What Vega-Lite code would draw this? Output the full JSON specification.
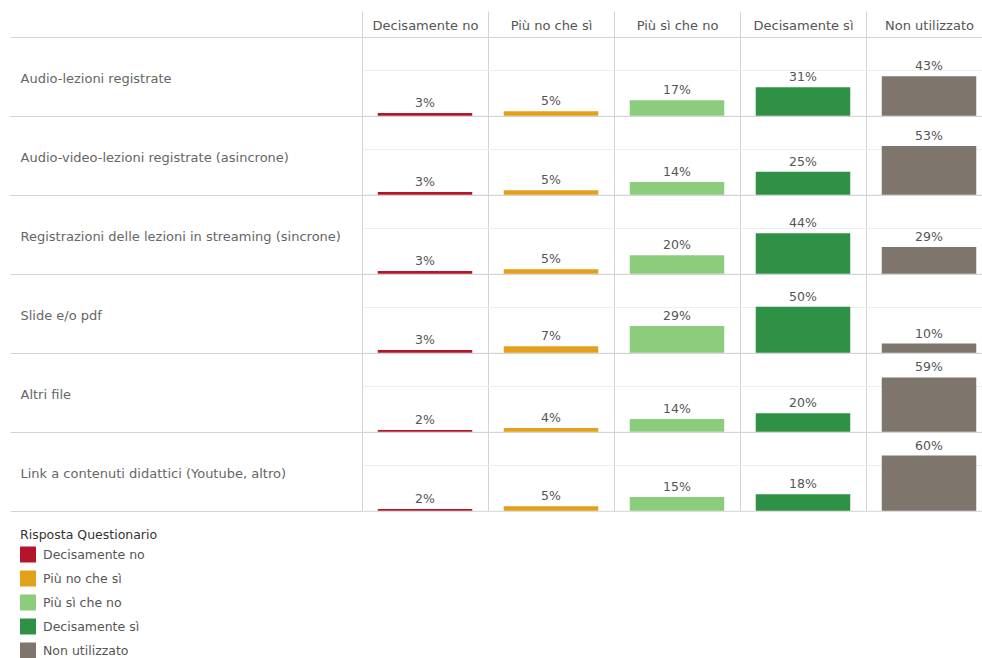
{
  "$schema": "https://vega.github.io/schema/vega-lite/v6.json",
  "padding": {"left": 9, "top": 10, "right": 0, "bottom": 0},
  "background": "white",
  "bounds": "flush",
  "config": {
    "font": "DejaVu Sans",
    "view": {"stroke": "#d4d4d4", "strokeWidth": 1},
    "facet": {"spacing": 0}
  },
  "data": {
    "values": [
      {"voce": "Audio-lezioni registrate", "risposta": "Decisamente no", "valore": 0.03},
      {"voce": "Audio-lezioni registrate", "risposta": "Più no che sì", "valore": 0.05},
      {"voce": "Audio-lezioni registrate", "risposta": "Più sì che no", "valore": 0.17},
      {"voce": "Audio-lezioni registrate", "risposta": "Decisamente sì", "valore": 0.31},
      {"voce": "Audio-lezioni registrate", "risposta": "Non utilizzato", "valore": 0.43},
      {"voce": "Audio-video-lezioni registrate (asincrone)", "risposta": "Decisamente no", "valore": 0.03},
      {"voce": "Audio-video-lezioni registrate (asincrone)", "risposta": "Più no che sì", "valore": 0.05},
      {"voce": "Audio-video-lezioni registrate (asincrone)", "risposta": "Più sì che no", "valore": 0.14},
      {"voce": "Audio-video-lezioni registrate (asincrone)", "risposta": "Decisamente sì", "valore": 0.25},
      {"voce": "Audio-video-lezioni registrate (asincrone)", "risposta": "Non utilizzato", "valore": 0.53},
      {"voce": "Registrazioni delle lezioni in streaming (sincrone)", "risposta": "Decisamente no", "valore": 0.03},
      {"voce": "Registrazioni delle lezioni in streaming (sincrone)", "risposta": "Più no che sì", "valore": 0.05},
      {"voce": "Registrazioni delle lezioni in streaming (sincrone)", "risposta": "Più sì che no", "valore": 0.20},
      {"voce": "Registrazioni delle lezioni in streaming (sincrone)", "risposta": "Decisamente sì", "valore": 0.44},
      {"voce": "Registrazioni delle lezioni in streaming (sincrone)", "risposta": "Non utilizzato", "valore": 0.29},
      {"voce": "Slide e/o pdf", "risposta": "Decisamente no", "valore": 0.03},
      {"voce": "Slide e/o pdf", "risposta": "Più no che sì", "valore": 0.07},
      {"voce": "Slide e/o pdf", "risposta": "Più sì che no", "valore": 0.29},
      {"voce": "Slide e/o pdf", "risposta": "Decisamente sì", "valore": 0.50},
      {"voce": "Slide e/o pdf", "risposta": "Non utilizzato", "valore": 0.10},
      {"voce": "Altri file", "risposta": "Decisamente no", "valore": 0.02},
      {"voce": "Altri file", "risposta": "Più no che sì", "valore": 0.04},
      {"voce": "Altri file", "risposta": "Più sì che no", "valore": 0.14},
      {"voce": "Altri file", "risposta": "Decisamente sì", "valore": 0.20},
      {"voce": "Altri file", "risposta": "Non utilizzato", "valore": 0.59},
      {"voce": "Link a contenuti didattici (Youtube, altro)", "risposta": "Decisamente no", "valore": 0.02},
      {"voce": "Link a contenuti didattici (Youtube, altro)", "risposta": "Più no che sì", "valore": 0.05},
      {"voce": "Link a contenuti didattici (Youtube, altro)", "risposta": "Più sì che no", "valore": 0.15},
      {"voce": "Link a contenuti didattici (Youtube, altro)", "risposta": "Decisamente sì", "valore": 0.18},
      {"voce": "Link a contenuti didattici (Youtube, altro)", "risposta": "Non utilizzato", "valore": 0.60}
    ]
  },
  "facet": {
    "row": {
      "field": "voce",
      "type": "nominal",
      "sort": [
        "Audio-lezioni registrate",
        "Audio-video-lezioni registrate (asincrone)",
        "Registrazioni delle lezioni in streaming (sincrone)",
        "Slide e/o pdf",
        "Altri file",
        "Link a contenuti didattici (Youtube, altro)"
      ],
      "header": {"title": null, "labels": false}
    }
  },
  "resolve": {"scale": {"y": "independent"}},
  "spec": {
    "width": 630,
    "height": 78.8,
    "resolve": {"scale": {"y": "independent"}, "axis": {"y": "independent"}},
    "layer": [
      {
        "encoding": {
          "x": {
            "field": "risposta",
            "type": "nominal",
            "sort": ["Decisamente no", "Più no che sì", "Più sì che no", "Decisamente sì", "Non utilizzato"],
            "scale": {"paddingInner": 0, "paddingOuter": 0},
            "axis": {
              "orient": "top",
              "title": null,
              "labelAngle": 0,
              "tickBand": "extent",
              "grid": true,
              "gridColor": "#d4d4d4",
              "tickColor": "#d4d4d4",
              "tickSize": 26,
              "domain": false,
              "labelPadding": -21,
              "labelFontSize": 13,
              "labelColor": "#555555"
            }
          },
          "y": {
            "field": "valore",
            "type": "quantitative",
            "scale": {"domain": [0, 0.855], "nice": false},
            "axis": {
              "orient": "right",
              "title": null,
              "values": [0.5],
              "grid": true,
              "gridColor": "#eeeeee",
              "labels": false,
              "ticks": false,
              "domain": false
            }
          }
        },
        "layer": [
          {
            "mark": {"type": "bar", "width": {"band": 0.75}},
            "encoding": {
              "color": {
                "field": "risposta",
                "type": "nominal",
                "sort": ["Decisamente no", "Più no che sì", "Più sì che no", "Decisamente sì", "Non utilizzato"],
                "scale": {
                  "domain": ["Decisamente no", "Più no che sì", "Più sì che no", "Decisamente sì", "Non utilizzato"],
                  "range": ["#B5152B", "#E3A01A", "#8BCD7C", "#2F9145", "#7E756D"]
                },
                "legend": {
                  "title": "Risposta Questionario",
                  "orient": "none",
                  "legendX": -342,
                  "legendY": 492,
                  "direction": "vertical",
                  "symbolType": "square",
                  "symbolSize": 256,
                  "symbolStrokeWidth": 0,
                  "labelFontSize": 12.5,
                  "labelColor": "#555555",
                  "labelOffset": 7,
                  "titleFontSize": 12.5,
                  "titleColor": "#333333",
                  "titleFontWeight": "normal",
                  "rowPadding": 8,
                  "titlePadding": 5
                }
              }
            }
          },
          {
            "mark": {"type": "text", "baseline": "bottom", "dy": -3, "fontSize": 12.5, "color": "#555555"},
            "encoding": {
              "text": {"field": "valore", "type": "quantitative", "format": ".0%"}
            }
          }
        ]
      },
      {
        "mark": {"type": "text", "opacity": 0},
        "encoding": {
          "text": {"value": ""},
          "y": {
            "field": "voce",
            "type": "nominal",
            "scale": {"paddingInner": 0, "paddingOuter": 0},
            "axis": {
              "orient": "left",
              "title": null,
              "tickBand": "extent",
              "ticks": true,
              "tickSize": 352,
              "tickColor": "#d4d4d4",
              "domain": false,
              "grid": false,
              "labelAlign": "left",
              "labelBaseline": "middle",
              "labelPadding": -10,
              "labelOffset": 2,
              "labelFontSize": 13,
              "labelColor": "#666666",
              "labelLimit": 345
            }
          }
        }
      }
    ]
  }
}
